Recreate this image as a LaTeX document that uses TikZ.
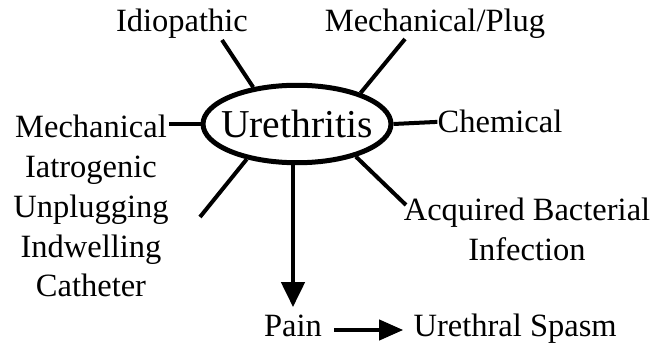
\documentclass[tikz,border=0pt]{standalone}
\usepackage{fontspec}
\setmainfont{Liberation Serif}
\usetikzlibrary{shapes.geometric, arrows.meta, positioning}

\begin{document}
\begin{tikzpicture}[
    x=0.02cm, y=-0.02cm,
    cause/.style={inner sep=0pt, font=\fontsize{18.5}{22.6}\selectfont, align=center},
    hub/.style={ellipse, draw=black, line width=0.1cm, minimum width=3.76cm, minimum height=1.55cm, inner xsep=-0.2cm, inner ysep=0pt, font=\fontsize{22.5}{26}\selectfont},
    spoke/.style={line width=0.08cm},
    arrow/.style={line width=0.09cm, -{Triangle[length=0.5cm, width=0.46cm]}}
]
    \useasboundingbox (0,0) rectangle (654,348);

    \node[hub] (uro) at (297,124) {Urethritis};

    \node[cause, anchor=base] (idio) at (182,32) {Idiopathic};
    \node[cause, anchor=base] (plug) at (435,32) {Mechanical/Plug};
    \node[cause, anchor=base] (chem) at (500,133) {Chemical};
    \node[cause, anchor=north] (acq) at (527,198) {Acquired Bacterial\\Infection};
    \node[cause, anchor=north] (iatro) at (91,115) {Mechanical\\Iatrogenic\\Unplugging\\Indwelling\\Catheter};
    \node[cause, anchor=base] (pain) at (293,337) {Pain};
    \node[cause, base right=1.82cm of pain] (spasm) {Urethral Spasm};

    % free ends of the spokes
    \coordinate (idioend) at (222,40);
    \coordinate (plugend) at (405,39);
    \coordinate (acqend) at (406,205);
    \coordinate (iatroend) at (200,217);

    \draw[spoke] (uro.140) -- (idioend);
    \draw[spoke] (uro.26) -- (plugend);
    \draw[spoke] (uro.east) -- (chem.west);
    \draw[spoke] (uro.-29) -- (acqend);
    \draw[spoke] (uro.215) -- (iatroend);
    \draw[spoke] (uro.west) -- (uro.west -| iatro.east);

    \draw[arrow, shorten >=0.16cm] (uro.south -| pain.north) -- (pain.north);
    \draw[arrow, line width=0.08cm, -{Triangle[length=0.48cm, width=0.4cm]}, shorten <=0.24cm, shorten >=0.2cm]
        ([yshift=0.14cm]pain.base east) -- ([yshift=0.14cm]spasm.base west);

\end{tikzpicture}
\end{document}
